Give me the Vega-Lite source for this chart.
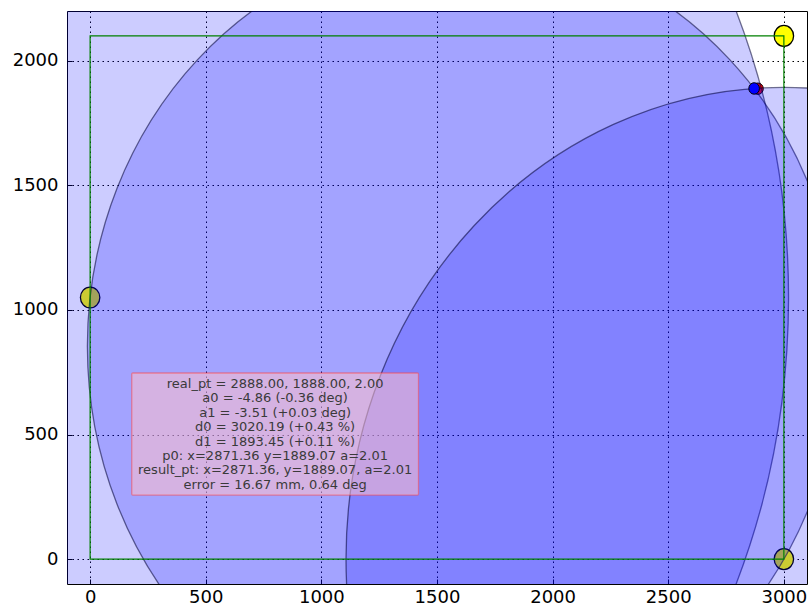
{
  "$schema": "https://vega.github.io/schema/vega-lite/v6.json",
  "autosize": {"type": "none"},
  "padding": {"left": 67, "top": 11, "right": 3, "bottom": 22},
  "width": 740,
  "height": 573,
  "background": "white",
  "config": {
    "view": {"stroke": "black", "strokeWidth": 1},
    "axis": {
      "grid": true,
      "gridColor": "black",
      "gridDash": [1.5, 3.5],
      "gridWidth": 1,
      "gridOpacity": 1,
      "domain": false,
      "tickColor": "black",
      "tickSize": -5,
      "tickWidth": 1,
      "labelFont": "DejaVu Sans",
      "labelFontSize": 18,
      "labelColor": "black",
      "format": "d",
      "title": null,
      "zindex": 1
    }
  },
  "datasets": {
    "beacons": [
      {"cx": 0, "cy": 1050, "r": 42},
      {"cx": 3000, "cy": 2100, "r": 42},
      {"cx": 3000, "cy": 0, "r": 42}
    ],
    "real": [{"cx": 2888, "cy": 1888, "r": 23}],
    "result": [{"cx": 2871.36, "cy": 1889.07, "r": 23}],
    "circles": [
      {"name": "d0", "cx": 0, "cy": 1050, "r": 3020.19},
      {"name": "angle", "cx": 1615.3, "cy": 854.3, "r": 1627.1},
      {"name": "d1", "cx": 3000, "cy": 0, "r": 1893.45}
    ],
    "table": [{"x0": 0, "x1": 3000, "y0": 0, "y1": 2100}],
    "box": [{"x0": 180, "x1": 1420, "y0": 257, "y1": 747, "tx": 800, "ty": 703,
      "label": "real_pt = 2888.00, 1888.00, 2.00\na0 = -4.86 (-0.36 deg)\na1 = -3.51 (+0.03 deg)\nd0 = 3020.19 (+0.43 %)\nd1 = 1893.45 (+0.11 %)\np0: x=2871.36 y=1889.07 a=2.01\nresult_pt: x=2871.36, y=1889.07, a=2.01\nerror = 16.67 mm, 0.64 deg"}]
  },
  "layer": [
    {
      "data": {"name": "beacons"},
      "mark": {"type": "point", "filled": true, "clip": true, "opacity": 1, "fill": "yellow", "stroke": "black", "strokeWidth": 1.3,
        "shape": "M1,0C1,0.595,0.5523,1.0773,0,1.0773C-0.5523,1.0773,-1,0.595,-1,0C-1,-0.595,-0.5523,-1.0773,0,-1.0773C0.5523,-1.0773,1,-0.595,1,0Z"},
      "encoding": {
        "x": {"field": "cx", "type": "quantitative", "scale": {"domain": [-100, 3100], "nice": false, "zero": false},
              "axis": {"values": [0, 500, 1000, 1500, 2000, 2500, 3000], "labelPadding": 9}},
        "y": {"field": "cy", "type": "quantitative", "scale": {"domain": [-100, 2200], "nice": false, "zero": false},
              "axis": {"values": [0, 500, 1000, 1500, 2000], "labelPadding": 14}},
        "size": {"field": "r", "type": "quantitative", "scale": {"type": "pow", "exponent": 2, "domain": [0, 3100], "range": [0, 2055639]}, "legend": null}
      }
    },
    {
      "data": {"name": "real"},
      "mark": {"type": "point", "filled": true, "clip": true, "opacity": 1, "fill": "red", "stroke": "black", "strokeWidth": 1,
        "shape": "M1,0C1,0.595,0.5523,1.0773,0,1.0773C-0.5523,1.0773,-1,0.595,-1,0C-1,-0.595,-0.5523,-1.0773,0,-1.0773C0.5523,-1.0773,1,-0.595,1,0Z"},
      "encoding": {
        "x": {"field": "cx", "type": "quantitative"},
        "y": {"field": "cy", "type": "quantitative"},
        "size": {"field": "r", "type": "quantitative", "legend": null}
      }
    },
    {
      "data": {"name": "circles"},
      "mark": {"type": "point", "filled": true, "clip": true, "opacity": 1, "fill": "blue", "fillOpacity": 0.2, "stroke": "#000033", "strokeOpacity": 0.55, "strokeWidth": 1.3,
        "shape": "M1,0C1,0.595,0.5523,1.0773,0,1.0773C-0.5523,1.0773,-1,0.595,-1,0C-1,-0.595,-0.5523,-1.0773,0,-1.0773C0.5523,-1.0773,1,-0.595,1,0Z"},
      "encoding": {
        "x": {"field": "cx", "type": "quantitative"},
        "y": {"field": "cy", "type": "quantitative"},
        "size": {"field": "r", "type": "quantitative", "legend": null}
      }
    },
    {
      "data": {"name": "result"},
      "mark": {"type": "point", "filled": true, "clip": true, "opacity": 1, "fill": "blue", "stroke": "black", "strokeWidth": 1,
        "shape": "M1,0C1,0.595,0.5523,1.0773,0,1.0773C-0.5523,1.0773,-1,0.595,-1,0C-1,-0.595,-0.5523,-1.0773,0,-1.0773C0.5523,-1.0773,1,-0.595,1,0Z"},
      "encoding": {
        "x": {"field": "cx", "type": "quantitative"},
        "y": {"field": "cy", "type": "quantitative"},
        "size": {"field": "r", "type": "quantitative", "legend": null}
      }
    },
    {
      "data": {"name": "table"},
      "mark": {"type": "rect", "fill": null, "fillOpacity": 0, "stroke": "green", "strokeWidth": 1.2, "clip": true},
      "encoding": {
        "x": {"field": "x0", "type": "quantitative"},
        "x2": {"field": "x1"},
        "y": {"field": "y0", "type": "quantitative"},
        "y2": {"field": "y1"}
      }
    },
    {
      "data": {"name": "box"},
      "mark": {"type": "rect", "fill": "pink", "fillOpacity": 0.55, "stroke": "#ff4444", "strokeOpacity": 0.5, "strokeWidth": 1.3, "cornerRadius": 1},
      "encoding": {
        "x": {"field": "x0", "type": "quantitative"},
        "x2": {"field": "x1"},
        "y": {"field": "y0", "type": "quantitative"},
        "y2": {"field": "y1"}
      }
    },
    {
      "data": {"name": "box"},
      "mark": {"type": "text", "font": "DejaVu Sans", "fontSize": 13, "lineBreak": "\n", "lineHeight": 14.4, "align": "center", "baseline": "middle", "color": "#3a3a3a"},
      "encoding": {
        "x": {"field": "tx", "type": "quantitative"},
        "y": {"field": "ty", "type": "quantitative"},
        "text": {"field": "label"}
      }
    }
  ]
}
